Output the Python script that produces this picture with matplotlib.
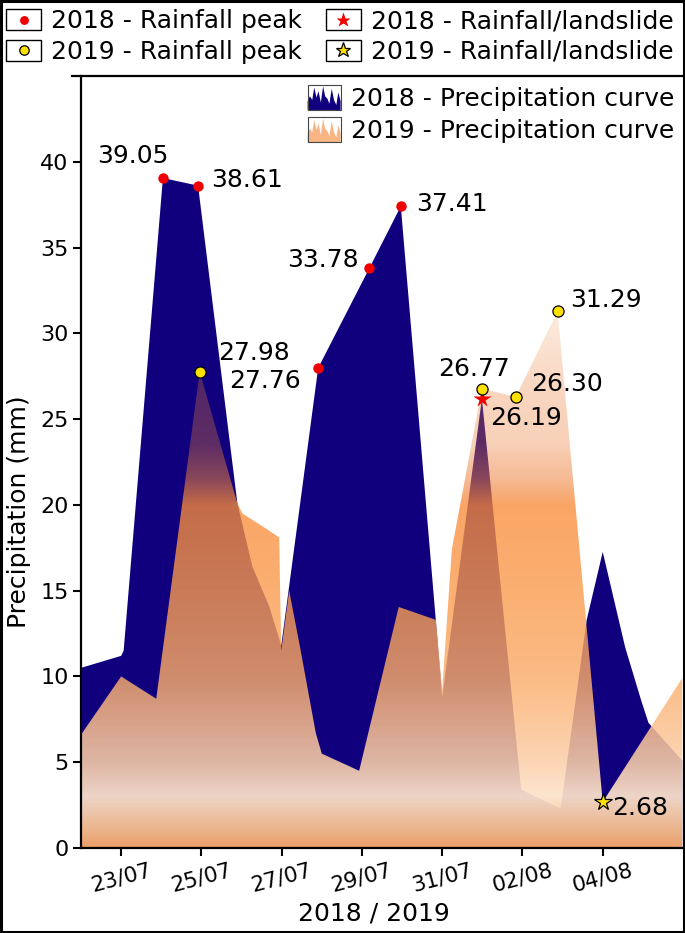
import numpy as np
import pandas as pd
import matplotlib
matplotlib.use("Agg")
import matplotlib.pyplot as plt
import matplotlib.dates as mdates
from matplotlib.patches import Rectangle, Polygon, Patch
from matplotlib.lines import Line2D
from matplotlib.legend_handler import HandlerBase

plt.rcParams['font.family'] = ['DejaVu Sans']

# precipitation curves (mm)
t_2018 = pd.to_datetime([
    '2018-07-22 00:00', '2018-07-23 00:00', '2018-07-23 01:30', '2018-07-24 01:00',
    '2018-07-24 22:00', '2018-07-25 21:30', '2018-07-26 06:30', '2018-07-26 16:30',
    '2018-07-26 23:45', '2018-07-27 21:50', '2018-07-29 04:20', '2018-07-29 23:15',
    '2018-07-30 20:10', '2018-07-31 00:00', '2018-07-31 23:45', '2018-08-01 23:15',
    '2018-08-02 22:50', '2018-08-03 14:25', '2018-08-04 00:00', '2018-08-04 13:25',
    '2018-08-04 23:00', '2018-08-05 03:20', '2018-08-05 23:30'])
rain_2018 = [10.5, 11.2, 11.5, 39.05,
             38.61, 20.1, 16.4, 14.1,
             11.8, 27.98, 33.78, 37.41,
             13.3, 8.8, 26.19, 3.4,
             2.3, 13.3, 17.26, 11.7,
             8.6, 7.3, 5.1]

t_2019 = pd.to_datetime([
    '2018-07-22 00:00', '2018-07-23 00:00', '2018-07-23 21:00', '2018-07-24 23:00',
    '2018-07-25 21:30', '2018-07-26 00:30', '2018-07-26 16:30', '2018-07-26 22:30',
    '2018-07-26 23:45', '2018-07-27 04:30', '2018-07-27 11:00', '2018-07-27 20:25',
    '2018-07-28 00:00', '2018-07-28 22:20', '2018-07-29 22:00', '2018-07-30 20:10',
    '2018-07-31 00:00', '2018-07-31 05:45', '2018-07-31 23:45', '2018-08-01 20:00',
    '2018-08-02 21:00', '2018-08-04 00:00', '2018-08-05 23:30'])
rain_2019 = [6.6, 10.0, 8.7, 27.76,
             20.1, 19.5, 18.5, 18.1,
             11.5, 15.0, 11.7, 6.7,
             5.5, 4.5, 14.05, 13.3,
             9.2, 17.4, 26.77, 26.30,
             31.29, 2.68, 9.9]

# highlighted points
peak18_t = pd.to_datetime(['2018-07-24 01:00', '2018-07-24 22:00', '2018-07-27 21:50',
                           '2018-07-29 04:20', '2018-07-29 23:15'])
peak18_v = [39.05, 38.61, 27.98, 33.78, 37.41]
slide18_t = pd.to_datetime(['2018-07-31 23:45'])
slide18_v = [26.19]
peak19_t = pd.to_datetime(['2018-07-24 23:00', '2018-07-31 23:45', '2018-08-01 20:00',
                           '2018-08-02 21:00'])
peak19_v = [27.76, 26.77, 26.30, 31.29]
slide19_t = pd.to_datetime(['2018-08-04 00:00'])
slide19_v = [2.68]

tick_dates = pd.to_datetime(['2018-07-23', '2018-07-25', '2018-07-27', '2018-07-29',
                             '2018-07-31', '2018-08-02', '2018-08-04'])
x_start, x_end = pd.Timestamp('2018-07-22'), pd.Timestamp('2018-08-06')

# label offsets in points
label_offset = {39.05: (-22, 16), 38.61: (35, 4), 27.98: (-46, 11), 33.78: (-33, 6),
                37.41: (37, 1.5), 26.19: (32, -14), 27.76: (47, -7), 26.77: (-6, 14),
                26.30: (37, 9), 31.29: (35, 8), 2.68: (27, -4)}

NAVY = '#10007e'
RED = '#f00000'
YELLOW = '#ffe100'

# vertical colour/alpha ramp of the 2019 area
ramp_y = [0, 1.2, 3, 5, 10, 15, 20, 21.5, 23.5, 27, 32, 45]
ramp_rgba = [(238, 160, 105, 1.0), (244, 190, 145, 0.97), (253, 228, 205, 0.94),
             (252, 208, 170, 0.88), (251, 172, 105, 0.82), (250, 155, 78, 0.80),
             (249, 140, 58, 0.78), (238, 130, 60, 0.55), (235, 125, 55, 0.36),
             (235, 125, 55, 0.31), (245, 175, 125, 0.22), (245, 175, 125, 0.22)]


class BoxedMarker(HandlerBase):
    def create_artists(self, legend, orig, xd, yd, w, h, fs, trans):
        box = Rectangle((-xd, -yd), w, h, facecolor='white', edgecolor='black',
                        lw=1.0, transform=trans)
        m = Line2D([-xd + w / 2], [-yd + h / 2], linestyle='none',
                   marker=orig.get_marker(), markersize=orig.get_markersize() * 0.85,
                   markerfacecolor=orig.get_markerfacecolor(),
                   markeredgecolor=orig.get_markeredgecolor(),
                   markeredgewidth=orig.get_markeredgewidth(), transform=trans)
        return [box, m]


icon_x = [0, 0.07, 0.14, 0.2, 0.27, 0.33, 0.4, 0.47, 0.53, 0.6, 0.66, 0.73, 0.8, 0.87, 0.93, 1.0]
icon_y = [0.35, 0.55, 0.4, 0.9, 0.5, 0.75, 0.3, 0.95, 0.55, 0.45, 0.25, 0.85, 0.4, 0.2, 0.7, 0.35]


class AreaIcon(HandlerBase):
    def create_artists(self, legend, orig, xd, yd, w, h, fs, trans):
        x0, y0 = -xd, -yd
        pts = [(x0, y0)] + [(x0 + w * a, y0 + h * b) for a, b in zip(icon_x, icon_y)] + [(x0 + w, y0)]
        poly = Polygon(pts, closed=True, facecolor=orig.get_facecolor(), edgecolor='none',
                       transform=trans)
        box = Rectangle((x0, y0), w, h, facecolor='none', edgecolor='#444444', lw=0.8,
                        transform=trans)
        return [poly, box]


fig = plt.figure(figsize=(6.85, 9.33), dpi=100)
ax = fig.add_axes([81 / 685, 85 / 933, 602 / 685, 772 / 933])

# 2018 area
ax.fill_between(t_2018, rain_2018, 0, facecolor=NAVY, edgecolor='none', zorder=1)

# 2019 area: translucent gradient clipped to the curve
ys = np.linspace(0, 45, 900)
rgba = np.zeros((len(ys), 1, 4))
arr = np.array(ramp_rgba, dtype=float)
for k in range(3):
    rgba[:, 0, k] = np.interp(ys, ramp_y, arr[:, k]) / 255
rgba[:, 0, 3] = np.interp(ys, ramp_y, arr[:, 3])
poly19 = ax.fill_between(t_2019, rain_2019, 0, facecolor='none', edgecolor='none', zorder=2)
im = ax.imshow(rgba, origin='lower', aspect='auto', interpolation='bilinear',
               extent=[mdates.date2num(x_start), mdates.date2num(x_end), 0, 45], zorder=2)
im.set_clip_path(poly19.get_paths()[0], transform=ax.transData)

# markers
m_p18, = ax.plot(peak18_t, peak18_v, 'o', color=RED, ms=7.5, mec='none', zorder=5)
m_s18, = ax.plot(slide18_t, slide18_v, '*', color=RED, ms=13, mec='none', zorder=5)
m_p19, = ax.plot(peak19_t, peak19_v, 'o', color=YELLOW, ms=8, mec='black', mew=0.9, zorder=5)
m_s19, = ax.plot(slide19_t, slide19_v, '*', color=YELLOW, ms=13, mec='black', mew=0.9, zorder=5)

for tt, vv in zip(list(peak18_t) + list(slide18_t) + list(peak19_t) + list(slide19_t),
                  peak18_v + slide18_v + peak19_v + slide19_v):
    ax.annotate(f'{vv:.2f}', (tt, vv), xytext=label_offset[vv], textcoords='offset points',
                ha='center', va='center', fontsize=18, zorder=6)

ax.set_xlim(x_start, x_end)
ax.set_ylim(0, 45)
ax.set_yticks(np.arange(0, 41, 5))
ax.set_xticks(tick_dates)
ax.xaxis.set_major_formatter(mdates.DateFormatter('%d/%m'))
ax.tick_params(direction='out', length=6, width=1.5, labelsize=16, pad=3)
ax.tick_params(axis='x', labelsize=15.5, labelrotation=15)
for s in ('top', 'right'):
    ax.spines[s].set_visible(False)
for s in ('left', 'bottom'):
    ax.spines[s].set_linewidth(1.6)
ax.set_ylabel('Precipitation (mm)', fontsize=18)
ax.yaxis.set_label_coords(-0.083, 0.435)
ax.set_xlabel('2018 / 2019', fontsize=18)
ax.xaxis.set_label_coords(0.487, -0.069)

# precipitation legend
h18 = Patch(facecolor=NAVY)
h19 = Patch(facecolor='#f9b584')
ax.legend([h18, h19], ['2018 - Precipitation curve', '2019 - Precipitation curve'],
          handler_map={Patch: AreaIcon()}, loc='upper right', bbox_to_anchor=(1.0, 1.0),
          frameon=False, fontsize=18, handlelength=1.32, handleheight=1.16,
          handletextpad=0.4, labelspacing=0.26, borderpad=0.36, borderaxespad=0.0)

# marker legend across the top
fig.legend([m_p18, m_p19, m_s18, m_s19],
           ['2018 - Rainfall peak', '2019 - Rainfall peak',
            '2018 - Rainfall/landslide', '2019 - Rainfall/landslide'],
           handler_map={Line2D: BoxedMarker()}, ncol=2, loc='upper left',
           bbox_to_anchor=(6 / 685, 1 - 9 / 933), frameon=False, fontsize=18,
           handlelength=1.4, handleheight=0.92, handletextpad=0.4,
           columnspacing=0.95, labelspacing=0.26, borderpad=0, borderaxespad=0)

fig.add_artist(Line2D([72 / 685, 683 / 685], [1 - 75.5 / 933] * 2, transform=fig.transFigure,
                      color='black', lw=1.6))
fig.add_artist(Rectangle((0.001, 0.001), 0.998, 0.998, transform=fig.transFigure,
                         facecolor='none', edgecolor='black', lw=2.2))

fig.savefig('out.png', dpi=100)
